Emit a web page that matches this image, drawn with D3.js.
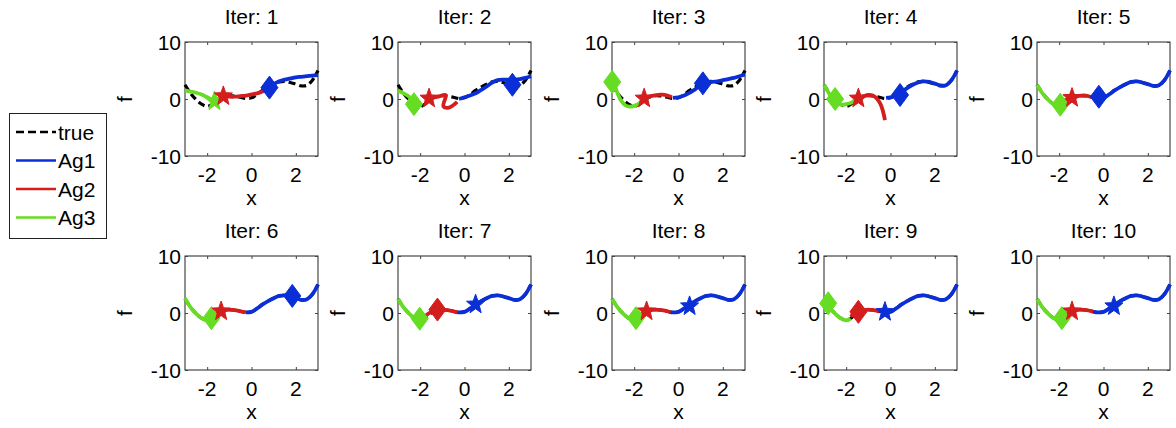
<!DOCTYPE html>
<html>
<head>
<meta charset="utf-8">
<script src="https://cdn.jsdelivr.net/npm/d3@7"></script>
<style>
  html, body { margin: 0; padding: 0; background: #fff; }
  svg { display: block; font-family: "Liberation Sans", Arial, Helvetica, sans-serif; }
</style>
</head>
<body>
<svg id="chart" width="1176" height="428"></svg>
<script>
// Iteration labels, one subplot each
const iterations = [1, 2, 3, 4, 5, 6, 7, 8, 9, 10];

// True function samples
const trueX = [-3, -2.75, -2.5, -2.25, -2, -1.75, -1.5, -1.25, -1, -0.75, -0.5, -0.25, 0, 0.25, 0.5, 0.75, 1, 1.25, 1.5, 1.75, 2, 2.25, 2.5, 2.75, 3];
const trueF = [2.5, 1.0, -0.1, -0.9, -1.3, -0.8, 0.0, 0.4, 0.6, 0.5, 0.3, 0.1, 0.2, 0.8, 1.5, 2.1, 2.6, 3.0, 3.1, 2.9, 2.6, 2.3, 2.4, 3.3, 5.0];

// Agent estimates per iteration: lists of [x, f]
const ag1Curves = [
  [[0.8,2.0],[1,2.6],[1.25,3.1],[1.5,3.4],[1.75,3.6],[2,3.8],[2.25,3.9],[2.5,4.0],[2.75,4.1],[3,4.2]],
  [[-0.25,0.0],[0,0.3],[0.25,0.6],[0.5,1.0],[0.75,1.6],[1,2.2],[1.25,2.9],[1.5,3.3],[1.75,3.4],[2,3.4],[2.25,3.4],[2.5,3.5],[2.75,3.7],[3,4.0]],
  [[-0.25,0.2],[0,0.3],[0.25,0.6],[0.5,1.1],[0.75,1.7],[1,2.4],[1.25,2.8],[1.5,3.0],[1.75,3.1],[2,3.3],[2.25,3.5],[2.5,3.7],[2.75,4.0],[3,4.3]],
  [[-0.2,0.2],[0,0.3],[0.25,0.6],[0.5,1.2],[0.75,1.9],[1,2.5],[1.25,2.9],[1.5,3.1],[1.75,3.0],[2,2.7],[2.25,2.4],[2.5,2.4],[2.75,3.3],[3,5.0]],
  [[-0.3,0.1],[0,0.2],[0.25,0.8],[0.5,1.5],[0.75,2.1],[1,2.6],[1.25,3.0],[1.5,3.1],[1.75,2.9],[2,2.6],[2.25,2.3],[2.5,2.4],[2.75,3.3],[3,5.0]],
  [[-0.25,0.1],[0,0.2],[0.25,0.8],[0.5,1.5],[0.75,2.1],[1,2.6],[1.25,3.0],[1.5,3.1],[1.75,2.9],[2,2.6],[2.25,2.3],[2.5,2.4],[2.75,3.3],[3,5.0]],
  [[-0.3,0.1],[0,0.2],[0.25,0.8],[0.5,1.5],[0.75,2.1],[1,2.6],[1.25,3.0],[1.5,3.1],[1.75,2.9],[2,2.6],[2.25,2.3],[2.5,2.4],[2.75,3.3],[3,5.0]],
  [[-0.35,0.1],[0,0.2],[0.25,0.8],[0.5,1.5],[0.75,2.1],[1,2.6],[1.25,3.0],[1.5,3.1],[1.75,2.9],[2,2.6],[2.25,2.3],[2.5,2.4],[2.75,3.3],[3,5.0]],
  [[-0.3,0.1],[0,0.2],[0.25,0.8],[0.5,1.5],[0.75,2.1],[1,2.6],[1.25,3.0],[1.5,3.1],[1.75,2.9],[2,2.6],[2.25,2.3],[2.5,2.4],[2.75,3.3],[3,5.0]],
  [[-0.45,0.2],[-0.25,0.1],[0,0.2],[0.25,0.8],[0.5,1.5],[0.75,2.1],[1,2.6],[1.25,3.0],[1.5,3.1],[1.75,2.9],[2,2.6],[2.25,2.3],[2.5,2.4],[2.75,3.3],[3,5.0]]
];
const ag2Curves = [
  [[-1.3,0.5],[-1,0.4],[-0.75,0.4],[-0.5,0.5],[-0.25,0.6],[0,0.8],[0.25,1.0],[0.5,1.3],[0.8,1.8]],
  [[-1.6,0.1],[-1.2,0.4],[-0.85,0.7],[-0.95,-1.3],[-0.7,-1.5],[-0.33,-0.5]],
  [[-1.55,0.1],[-1.25,0.5],[-1,0.7],[-0.75,0.75],[-0.5,0.6],[-0.3,0.3]],
  [[-1.45,0.1],[-1.2,0.5],[-1.0,0.7],[-0.8,0.6],[-0.6,0.0],[-0.45,-0.9],[-0.35,-2.0],[-0.25,-3.7]],
  [[-1.8,-0.3],[-1.6,0.0],[-1.4,0.3],[-1.2,0.5],[-1,0.6],[-0.8,0.6],[-0.6,0.4],[-0.3,0.1]],
  [[-1.75,-0.6],[-1.5,0.1],[-1.25,0.5],[-1,0.6],[-0.75,0.5],[-0.5,0.3],[-0.25,0.1]],
  [[-1.8,-0.6],[-1.5,0.2],[-1.25,0.5],[-1,0.6],[-0.75,0.5],[-0.5,0.3],[-0.3,0.1]],
  [[-1.75,-0.5],[-1.5,0.2],[-1.25,0.5],[-1,0.6],[-0.75,0.5],[-0.5,0.3],[-0.35,0.1]],
  [[-1.8,-0.6],[-1.5,0.2],[-1.25,0.5],[-1,0.6],[-0.75,0.5],[-0.5,0.3]],
  [[-1.8,-0.6],[-1.5,0.2],[-1.25,0.5],[-1,0.6],[-0.75,0.5],[-0.45,0.2]]
];
const ag3Curves = [
  [[-3,1.5],[-2.75,1.3],[-2.5,1.1],[-2.25,0.8],[-2,0.3],[-1.75,-0.2],[-1.65,-0.4]],
  [[-3,1.5],[-2.75,1.0],[-2.5,0.4],[-2.3,-0.9]],
  [[-3,3.0],[-2.85,2.0],[-2.75,1.0],[-2.6,-0.2],[-2.4,-1.1],[-2.2,-1.35],[-2,-1.2],[-1.75,-0.7],[-1.55,0.1]],
  [[-3,2.5],[-2.85,1.5],[-2.7,0.5],[-2.5,-0.5],[-2.25,-1.0],[-2,-0.9],[-1.75,-0.6],[-1.45,0.1]],
  [[-3,2.5],[-2.75,1.0],[-2.5,-0.1],[-2.25,-0.9],[-2,-1.3],[-1.9,-1.2]],
  [[-3,2.6],[-2.75,1.0],[-2.5,-0.1],[-2.25,-0.9],[-2,-1.3],[-1.75,-0.9]],
  [[-3,2.5],[-2.75,1.0],[-2.5,-0.1],[-2.25,-0.9],[-2,-1.3],[-1.8,-1.0]],
  [[-3,2.5],[-2.75,1.0],[-2.5,-0.1],[-2.25,-0.9],[-2,-1.3],[-1.8,-1.0]],
  [[-3,2.5],[-2.75,1.0],[-2.5,-0.1],[-2.25,-0.9],[-2,-1.3],[-1.8,-1.0]],
  [[-3,2.5],[-2.75,1.0],[-2.5,-0.1],[-2.25,-0.9],[-2,-1.3],[-1.85,-1.1]]
];

// Current point of each agent: x, f and marker kind
const ag1MarkX = [0.81, 2.16, 1.1, 0.43, -0.21, 1.84, 0.5, 0.5, -0.25, 0.47];
const ag1MarkF = [2.0, 2.5, 2.75, 0.7, 0.4, 3.0, 1.5, 1.2, 0.2, 1.2];
const ag1MarkKind = ["diamond","diamond","diamond","diamond","diamond","diamond","star","star","star","star"];
const ag2MarkX = [-1.27, -1.6, -1.55, -1.45, -1.42, -1.37, -1.22, -1.44, -1.45, -1.42];
const ag2MarkF = [0.5, 0.1, 0.1, 0.1, 0.2, 0.3, 0.6, 0.3, 0.2, 0.3];
const ag2MarkKind = ["star","star","star","star","star","star","diamond","star","diamond","star"];
const ag3MarkX = [-1.67, -2.28, -2.99, -2.5, -1.95, -1.81, -2.02, -1.92, -2.81, -1.88];
const ag3MarkF = [-0.4, -0.9, 3.0, 0.0, -1.0, -0.9, -1.0, -0.9, 1.7, -0.9];
const ag3MarkKind = ["star","diamond","diamond","diamond","diamond","diamond","diamond","diamond","diamond","diamond"];

// Axis ticks
const xTicks = [-2, 0, 2];
const yTicks = [-10, 0, 10];
const legendLabels = ["true", "Ag1", "Ag2", "Ag3"];

const COLORS = { ag1: "#0a2fd6", ag2: "#d41d1d", ag3: "#66dd22", true: "#000" };
const FONT = 21;

const svg = d3.select("#chart");

const panelW = 133, panelH = 114;
const colLeft = [185, 398, 612, 824, 1037];
const rowTop = [42, 256];

const agents = [
  { curves: ag3Curves, mx: ag3MarkX, mf: ag3MarkF, mk: ag3MarkKind, color: COLORS.ag3 },
  { curves: ag2Curves, mx: ag2MarkX, mf: ag2MarkF, mk: ag2MarkKind, color: COLORS.ag2 },
  { curves: ag1Curves, mx: ag1MarkX, mf: ag1MarkF, mk: ag1MarkKind, color: COLORS.ag1 }
];

function markerPath(kind) {
  if (kind === "diamond") {
    const w = 8.5, h = 11.5;
    return `M0,${-h}L${w},0L0,${h}L${-w},0Z`;
  }
  // five-pointed star
  const ro = 9.5, ri = 4.0, sy = 1.08;
  let d = "";
  for (let i = 0; i < 10; i++) {
    const r = i % 2 === 0 ? ro : ri;
    const a = -Math.PI / 2 + i * Math.PI / 5;
    d += (i === 0 ? "M" : "L") + (r * Math.cos(a)).toFixed(2) + "," + (r * sy * Math.sin(a)).toFixed(2);
  }
  return d + "Z";
}

iterations.forEach((it, i) => {
  const col = i % 5, row = Math.floor(i / 5);
  const left = colLeft[col], top = rowTop[row];
  const x = d3.scaleLinear().domain([-3, 3]).range([left, left + panelW]);
  const y = d3.scaleLinear().domain([-10, 10]).range([top + panelH, top]);
  const g = svg.append("g");

  // plot box
  g.append("rect").attr("x", left).attr("y", top).attr("width", panelW).attr("height", panelH)
    .attr("fill", "#fff").attr("stroke", "#222").attr("stroke-width", 1);

  // axes with inward ticks on all four sides
  const axB = d3.axisBottom(x).tickValues(xTicks).tickSize(-3).tickFormat("");
  const axT = d3.axisTop(x).tickValues(xTicks).tickSize(-3).tickFormat("");
  const axL = d3.axisLeft(y).tickValues(yTicks).tickSize(-3).tickFormat("");
  const axR = d3.axisRight(y).tickValues(yTicks).tickSize(-3).tickFormat("");
  [[axB, `translate(0,${top + panelH})`], [axT, `translate(0,${top})`],
   [axL, `translate(${left},0)`], [axR, `translate(${left + panelW},0)`]].forEach(([ax, tr]) => {
    const a = g.append("g").attr("transform", tr).call(ax);
    a.select(".domain").remove();
    a.selectAll("line").attr("stroke", "#444");
  });

  // tick labels
  g.selectAll(".xt").data(xTicks).join("text")
    .attr("x", d => x(d)).attr("y", top + panelH + 26)
    .attr("text-anchor", "middle").attr("font-size", FONT).text(d => d);
  g.selectAll(".yt").data(yTicks).join("text")
    .attr("x", left - 4).attr("y", d => y(d)).attr("dy", "0.36em")
    .attr("text-anchor", "end").attr("font-size", FONT).text(d => d);

  // axis labels and title
  g.append("text").attr("x", left + panelW / 2).attr("y", top + panelH + 49)
    .attr("text-anchor", "middle").attr("font-size", FONT).text("x");
  g.append("text").attr("transform", `translate(${left - 53},${top + panelH / 2}) rotate(-90)`)
    .attr("text-anchor", "middle").attr("font-size", FONT).text("f");
  g.append("text").attr("x", left + panelW / 2).attr("y", top - 18)
    .attr("text-anchor", "middle").attr("font-size", FONT).text(`Iter: ${it}`);

  // true function, dashed
  const lineCurve = d3.line().x(d => x(d[0])).y(d => y(d[1])).curve(d3.curveCatmullRom.alpha(0.5));
  g.append("path").datum(trueX.map((v, k) => [v, trueF[k]]))
    .attr("d", lineCurve).attr("fill", "none").attr("stroke", COLORS.true)
    .attr("stroke-width", 3.2).attr("stroke-dasharray", "7,4");

  // agents' estimates and current points
  agents.forEach(a => {
    g.append("path").datum(a.curves[i]).attr("d", lineCurve)
      .attr("fill", "none").attr("stroke", a.color).attr("stroke-width", 3.8)
      .attr("stroke-linejoin", "round");
  });
  agents.forEach(a => {
    g.append("path").attr("d", markerPath(a.mk[i]))
      .attr("transform", `translate(${x(a.mx[i])},${y(a.mf[i])})`)
      .attr("fill", a.color).attr("stroke", a.color).attr("stroke-width", 1);
  });
});

// legend
const leg = svg.append("g");
leg.append("rect").attr("x", 9.5).attr("y", 113.5).attr("width", 97).attr("height", 125)
  .attr("fill", "#fff").attr("stroke", "#222").attr("stroke-width", 1);
const legColors = [COLORS.true, COLORS.ag1, COLORS.ag2, COLORS.ag3];
legendLabels.forEach((lab, k) => {
  const yy = 132 + k * 28.5;
  leg.append("line").attr("x1", 16).attr("x2", 56).attr("y1", yy).attr("y2", yy)
    .attr("stroke", legColors[k]).attr("stroke-width", 2.5)
    .attr("stroke-dasharray", k === 0 ? "8,4" : null);
  leg.append("text").attr("x", 58).attr("y", yy).attr("dy", "0.36em")
    .attr("font-size", FONT).text(lab);
});
</script>
</body>
</html>
